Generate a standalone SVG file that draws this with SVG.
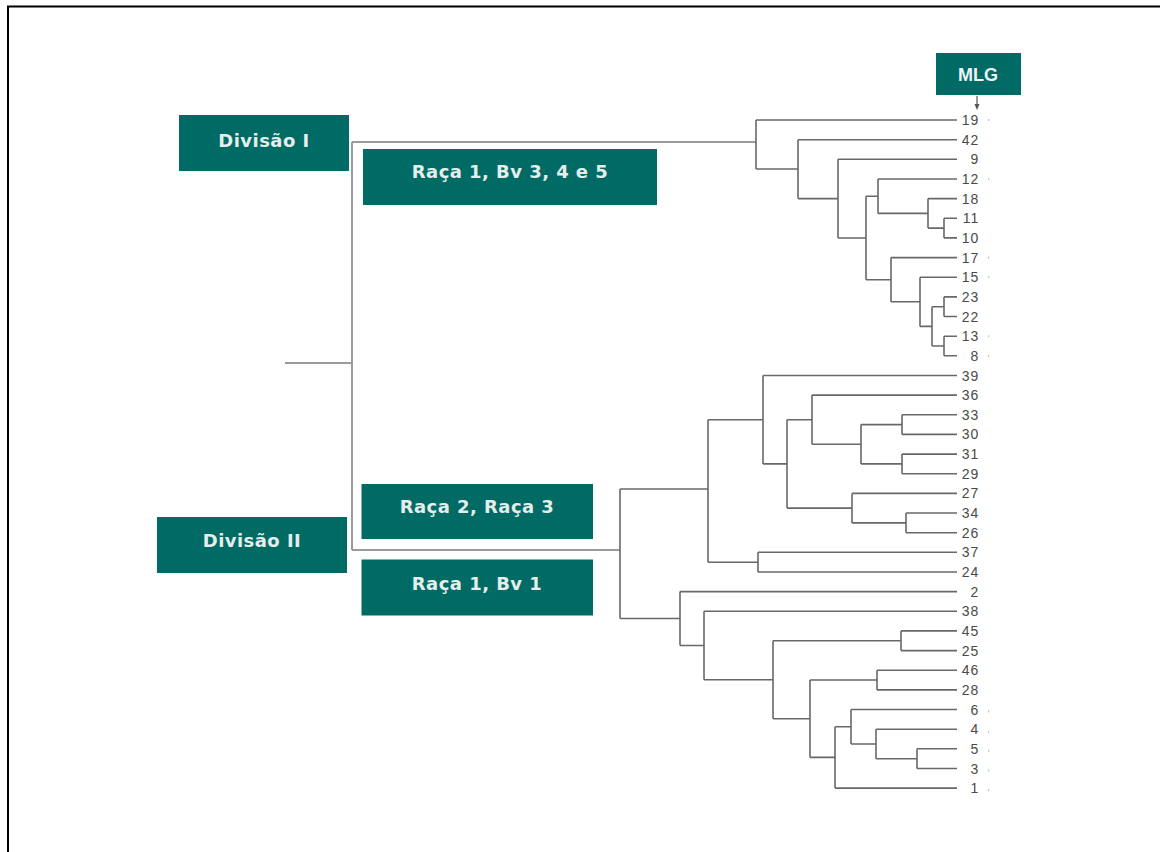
<svg xmlns="http://www.w3.org/2000/svg" width="1160" height="852" viewBox="0 0 1160 852">
<style>
.box{fill:#006a64}
.bt{font-family:"DejaVu Sans",Verdana,sans-serif;font-weight:bold;font-size:18px;fill:#e4eeec;text-anchor:middle;letter-spacing:0.45px}
.mt{font-family:"Liberation Sans",Arial,sans-serif;font-weight:bold;font-size:18px;fill:#eef4f3;text-anchor:middle}
.tr{fill:none;stroke:#686868;stroke-width:1.6}
.rt{fill:none;stroke:#9a9a9a;stroke-width:2}
.lf{font-family:"Liberation Sans",Arial,sans-serif;font-size:14px;fill:#4a4a4a;text-anchor:end;letter-spacing:0.8px}
.dt{fill:#c4c4c4}
</style>
<rect width="1160" height="852" fill="#fff"/>
<path d="M8 852 V6.5 H1160" fill="none" stroke="#000" stroke-width="2"/>

<g id="connectors">
<path class="rt" d="M285 363 H352 M352 142 V550 M352 142 H756 M352 550 H620"/>
<path class="tr" d="M756 120 V169 M756 120 H957 M756 169 H798"/>
<path class="tr" d="M798 139.7 V198.6 M798 139.7 H957 M798 198.6 H838"/>
<path class="tr" d="M838 159.3 V238 M838 159.3 H957 M838 238 H866"/>
<path class="tr" d="M866 196.2 V279.7 M866 196.2 H878 M866 279.7 H891"/>
<path class="tr" d="M878 179 V213.4 M878 179 H957 M878 213.4 H928"/>
<path class="tr" d="M928 198.6 V228.1 M928 198.6 H957 M928 228.1 H944"/>
<path class="tr" d="M944 218.3 V237.9 M944 218.3 H957 M944 237.9 H957"/>
<path class="tr" d="M891 257.6 V301.8 M891 257.6 H957 M891 301.8 H920"/>
<path class="tr" d="M920 277.2 V326.4 M920 277.2 H957 M920 326.4 H932"/>
<path class="tr" d="M932 306.7 V346 M932 306.7 H944 M932 346 H944"/>
<path class="tr" d="M944 296.9 V316.5 M944 296.9 H957 M944 316.5 H957"/>
<path class="tr" d="M944 336.2 V355.8 M944 336.2 H957 M944 355.8 H957"/>
<path class="tr" d="M620 489 V618.5 M620 489 H708 M620 618.5 H680"/>
<path class="tr" d="M708 419.7 V562.2 M708 419.7 H763 M708 562.2 H758"/>
<path class="tr" d="M758 552.3 V572 M758 552.3 H957 M758 572 H957"/>
<path class="tr" d="M763 375.5 V463.9 M763 375.5 H957 M763 463.9 H787"/>
<path class="tr" d="M787 419.7 V508.1 M787 419.7 H812 M787 508.1 H852"/>
<path class="tr" d="M812 395.1 V444.3 M812 395.1 H957 M812 444.3 H861"/>
<path class="tr" d="M861 424.6 V463.9 M861 424.6 H902 M861 463.9 H902"/>
<path class="tr" d="M902 414.8 V434.4 M902 414.8 H957 M902 434.4 H957"/>
<path class="tr" d="M902 454.1 V473.7 M902 454.1 H957 M902 473.7 H957"/>
<path class="tr" d="M852 493.4 V522.9 M852 493.4 H957 M852 522.9 H906"/>
<path class="tr" d="M906 513 V532.7 M906 513 H957 M906 532.7 H957"/>
<path class="tr" d="M680 591.6 V645.5 M680 591.6 H957 M680 645.5 H704"/>
<path class="tr" d="M704 611.3 V679.7 M704 611.3 H957 M704 679.7 H773"/>
<path class="tr" d="M773 640.7 V718.7 M773 640.7 H901 M773 718.7 H810"/>
<path class="tr" d="M901 630.9 V650.6 M901 630.9 H957 M901 650.6 H957"/>
<path class="tr" d="M810 680 V757.4 M810 680 H877 M810 757.4 H835"/>
<path class="tr" d="M877 670.2 V689.9 M877 670.2 H957 M877 689.9 H957"/>
<path class="tr" d="M835 726.7 V788.1 M835 726.7 H851 M835 788.1 H957"/>
<path class="tr" d="M851 709.5 V744 M851 709.5 H957 M851 744 H876"/>
<path class="tr" d="M876 729.2 V758.7 M876 729.2 H957 M876 758.7 H917"/>
<path class="tr" d="M917 748.8 V768.5 M917 748.8 H957 M917 768.5 H957"/>
<path d="M977 96 V105" fill="none" stroke="#555" stroke-width="1.2"/>
<polygon points="974.5,104 979.5,104 977,110" fill="#555"/>
</g>

<g id="leaves">
<text class="lf" x="979" y="125">19</text>
<text class="lf" x="979" y="144.7">42</text>
<text class="lf" x="979" y="164.3">9</text>
<text class="lf" x="979" y="184">12</text>
<text class="lf" x="979" y="203.6">18</text>
<text class="lf" x="979" y="223.3">11</text>
<text class="lf" x="979" y="242.9">10</text>
<text class="lf" x="979" y="262.6">17</text>
<text class="lf" x="979" y="282.2">15</text>
<text class="lf" x="979" y="301.9">23</text>
<text class="lf" x="979" y="321.5">22</text>
<text class="lf" x="979" y="341.2">13</text>
<text class="lf" x="979" y="360.8">8</text>
<text class="lf" x="979" y="380.5">39</text>
<text class="lf" x="979" y="400.1">36</text>
<text class="lf" x="979" y="419.8">33</text>
<text class="lf" x="979" y="439.4">30</text>
<text class="lf" x="979" y="459.1">31</text>
<text class="lf" x="979" y="478.7">29</text>
<text class="lf" x="979" y="498.4">27</text>
<text class="lf" x="979" y="518">34</text>
<text class="lf" x="979" y="537.7">26</text>
<text class="lf" x="979" y="557.3">37</text>
<text class="lf" x="979" y="577">24</text>
<text class="lf" x="979" y="596.6">2</text>
<text class="lf" x="979" y="616.3">38</text>
<text class="lf" x="979" y="635.9">45</text>
<text class="lf" x="979" y="655.6">25</text>
<text class="lf" x="979" y="675.2">46</text>
<text class="lf" x="979" y="694.9">28</text>
<text class="lf" x="979" y="714.5">6</text>
<text class="lf" x="979" y="734.2">4</text>
<text class="lf" x="979" y="753.8">5</text>
<text class="lf" x="979" y="773.5">3</text>
<text class="lf" x="979" y="793.1">1</text>
<rect class="dt" x="988" y="119" width="1.2" height="2"/>
<rect class="dt" x="988" y="178" width="1.2" height="2"/>
<rect class="dt" x="988" y="256.6" width="1.2" height="2"/>
<rect class="dt" x="988" y="276.2" width="1.2" height="2"/>
<rect class="dt" x="988" y="335.2" width="1.2" height="2"/>
<rect class="dt" x="988" y="354.8" width="1.2" height="2"/>
<rect class="dt" x="988" y="710.5" width="1.2" height="2"/>
<rect class="dt" x="988" y="731.2" width="1.2" height="2"/>
<rect class="dt" x="988" y="749.8" width="1.2" height="2"/>
<rect class="dt" x="988" y="769.5" width="1.2" height="2"/>
<rect class="dt" x="988" y="789.1" width="1.2" height="2"/>
</g>

<g id="mlg">
<rect class="box" x="936" y="53" width="85" height="42"/>
<text class="mt" x="978" y="80.5">MLG</text>
</g>
<g id="divisao-1">
<rect class="box" x="179" y="115" width="170" height="56"/>
<text class="bt" x="264" y="147">Divisão I</text>
</g>
<g id="raca1-bv345">
<rect class="box" x="363" y="149" width="294" height="56"/>
<text class="bt" x="510" y="178">Raça 1, Bv 3, 4 e 5</text>
</g>
<g id="raca2-raca3">
<rect class="box" x="361.5" y="484" width="231.5" height="55"/>
<text class="bt" x="477" y="513">Raça 2, Raça 3</text>
</g>
<g id="divisao-2">
<rect class="box" x="157" y="517" width="190" height="56"/>
<text class="bt" x="252" y="547">Divisão II</text>
</g>
<g id="raca1-bv1">
<rect class="box" x="361.5" y="559.5" width="231.5" height="56"/>
<text class="bt" x="477" y="590">Raça 1, Bv 1</text>
</g>
</svg>
